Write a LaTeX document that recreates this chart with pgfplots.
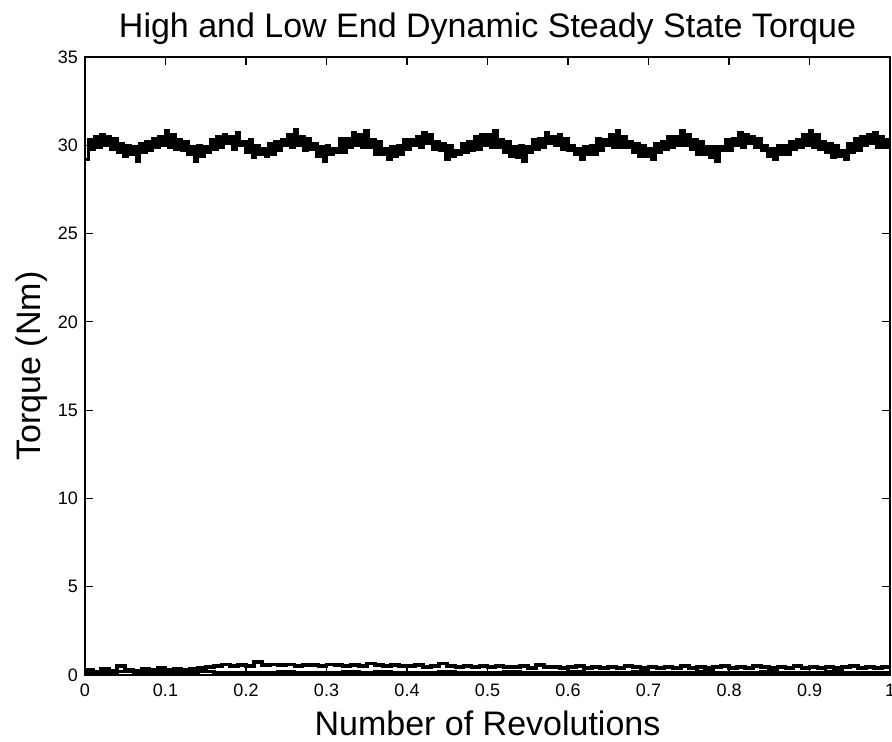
\documentclass[border=0pt]{standalone}
\usepackage{pgfplots}
\pgfplotsset{compat=1.18}
\usepackage{fontspec}
\setmainfont{Liberation Sans}
\begin{document}
\begin{tikzpicture}
\begin{axis}[
  name=ax,
  scale only axis,
  width=402.5pt, height=309pt,
  xmin=0, xmax=1, ymin=0, ymax=35,
  xtick={0,0.1,...,1.01},
  ytick={0,5,...,35},
  xticklabels={0,0.1,0.2,0.3,0.4,0.5,0.6,0.7,0.8,0.9,1},
  tick align=inside,
  tick pos=both,
  major tick length=4pt,
  axis line style={line width=0.6pt},
  every tick/.style={black, line width=0.6pt},
  /pgf/number format/assume math mode=true,
  ticklabel style={font=\fontsize{9}{10}\selectfont},
  xticklabel style={yshift=-1pt},
  title={High and Low End Dynamic Steady State Torque},
  title style={font=\fontsize{17}{19}\selectfont, at={(axis description cs:0.5,1)}, anchor=base, yshift=3.5pt},
  xlabel={Number of Revolutions},
  xlabel style={font=\fontsize{17}{19}\selectfont, at={(axis description cs:0.5,0)}, anchor=base, yshift=-30.5pt},
  ylabel={Torque (Nm)},
  ylabel style={font=\fontsize{17}{19}\selectfont, at={(axis description cs:-0.066,0.5)}, anchor=center, rotate=0},
]
\addplot[black, line width=1.7pt, const plot] coordinates {
(0,29.2)(0.004,30.3)(0.008,29.8)(0.012,30.5)(0.016,29.9)(0.02,30.6)(0.024,30.0)(0.028,30.5)(0.032,29.8)(0.036,30.4)
(0.04,29.6)(0.044,30.1)(0.048,29.4)(0.052,30.0)(0.056,29.5)(0.06,29.9)(0.064,29.1)(0.068,30.1)(0.072,29.6)(0.076,30.2)
(0.08,29.7)(0.084,30.4)(0.088,29.9)(0.092,30.5)(0.096,30.0)(0.1,30.8)(0.104,29.9)(0.108,30.6)(0.112,29.8)(0.116,30.3)
(0.12,29.7)(0.124,30.2)(0.128,29.5)(0.132,29.9)(0.136,29.1)(0.14,30.0)(0.144,29.4)(0.148,29.9)(0.152,29.6)(0.156,30.3)
(0.16,29.8)(0.164,30.5)(0.168,29.9)(0.172,30.6)(0.176,30.1)(0.18,30.5)(0.184,29.8)(0.188,30.7)(0.192,30.0)(0.196,30.2)
(0.2,29.6)(0.204,30.3)(0.208,29.3)(0.212,30.0)(0.216,29.5)(0.22,29.8)(0.224,29.4)(0.228,30.1)(0.232,29.5)(0.236,30.2)
(0.24,29.7)(0.244,30.3)(0.248,30.0)(0.252,30.6)(0.256,29.9)(0.26,30.9)(0.264,30.0)(0.268,30.5)(0.272,29.7)(0.276,30.4)
(0.28,29.8)(0.284,30.1)(0.288,29.4)(0.292,29.9)(0.296,29.1)(0.3,30.0)(0.304,29.5)(0.308,29.8)(0.312,29.6)(0.316,30.4)
(0.32,29.6)(0.324,30.4)(0.328,29.9)(0.332,30.7)(0.336,30.0)(0.34,30.6)(0.344,29.9)(0.348,30.8)(0.352,29.9)(0.356,30.3)
(0.36,29.5)(0.364,30.2)(0.368,29.5)(0.372,29.8)(0.376,29.2)(0.38,29.9)(0.384,29.4)(0.388,30.0)(0.392,29.5)(0.396,30.3)
(0.4,29.8)(0.404,30.3)(0.408,30.0)(0.412,30.5)(0.416,29.9)(0.42,30.7)(0.424,30.1)(0.428,30.6)(0.432,29.8)(0.436,30.2)
(0.44,29.7)(0.444,30.1)(0.448,29.2)(0.452,30.0)(0.456,29.4)(0.46,29.7)(0.464,29.5)(0.468,30.1)(0.472,29.6)(0.476,30.2)
(0.48,29.7)(0.484,30.5)(0.488,29.8)(0.492,30.6)(0.496,30.0)(0.5,30.6)(0.504,29.9)(0.508,30.8)(0.512,29.9)(0.516,30.3)
(0.52,29.6)(0.524,30.2)(0.528,29.4)(0.532,29.9)(0.536,29.3)(0.54,30.0)(0.544,29.1)(0.548,29.9)(0.552,29.6)(0.556,30.3)
(0.56,29.8)(0.564,30.4)(0.568,29.9)(0.572,30.7)(0.576,30.1)(0.58,30.5)(0.584,30.0)(0.588,30.6)(0.592,29.8)(0.596,30.4)
(0.6,29.7)(0.604,30.0)(0.608,29.5)(0.612,29.8)(0.616,29.2)(0.62,29.9)(0.624,29.5)(0.628,30.0)(0.632,29.5)(0.636,30.4)
(0.64,29.7)(0.644,30.3)(0.648,30.0)(0.652,30.6)(0.656,29.9)(0.66,30.8)(0.664,29.9)(0.668,30.5)(0.672,29.9)(0.676,30.2)
(0.68,29.6)(0.684,30.1)(0.688,29.4)(0.692,30.0)(0.696,29.4)(0.7,29.8)(0.704,29.2)(0.708,30.1)(0.712,29.6)(0.716,30.2)
(0.72,29.8)(0.724,30.5)(0.728,29.9)(0.732,30.5)(0.736,30.0)(0.74,30.8)(0.744,30.0)(0.748,30.6)(0.752,29.8)(0.756,30.3)
(0.76,29.5)(0.764,30.2)(0.768,29.5)(0.772,29.9)(0.776,29.3)(0.78,29.9)(0.784,29.1)(0.788,29.9)(0.792,29.7)(0.796,30.3)
(0.8,29.7)(0.804,30.4)(0.808,30.0)(0.812,30.7)(0.816,29.9)(0.82,30.6)(0.824,30.1)(0.828,30.5)(0.832,29.9)(0.836,30.4)
(0.84,29.7)(0.844,30.0)(0.848,29.4)(0.852,29.8)(0.856,29.2)(0.86,30.0)(0.864,29.5)(0.868,30.0)(0.872,29.5)(0.876,30.2)
(0.88,29.8)(0.884,30.3)(0.888,29.9)(0.892,30.6)(0.896,30.0)(0.9,30.8)(0.904,29.9)(0.908,30.6)(0.912,29.8)(0.916,30.2)
(0.92,29.6)(0.924,30.1)(0.928,29.3)(0.932,30.0)(0.936,29.4)(0.94,29.7)(0.944,29.2)(0.948,30.1)(0.952,29.6)(0.956,30.4)
(0.96,29.7)(0.964,30.5)(0.968,30.0)(0.972,30.6)(0.976,30.1)(0.98,30.7)(0.984,29.9)(0.988,30.5)(0.992,29.9)(0.996,30.3)(1,29.8)
};
\addplot[black, line width=1.8pt, const plot] coordinates {
(0,0.3)(0.01,0.2)(0.02,0.35)(0.03,0.25)(0.04,0.5)(0.05,0.3)(0.06,0.25)(0.07,0.35)(0.08,0.3)(0.09,0.4)
(0.1,0.3)(0.11,0.35)(0.12,0.3)(0.13,0.35)(0.14,0.4)(0.15,0.45)(0.16,0.5)(0.17,0.6)(0.18,0.5)(0.19,0.55)
(0.2,0.5)(0.21,0.75)(0.22,0.55)(0.23,0.6)(0.24,0.55)(0.25,0.6)(0.26,0.5)(0.27,0.55)(0.28,0.55)(0.29,0.5)
(0.3,0.6)(0.31,0.55)(0.32,0.5)(0.33,0.55)(0.34,0.5)(0.35,0.65)(0.36,0.55)(0.37,0.5)(0.38,0.55)(0.39,0.5)
(0.4,0.5)(0.41,0.55)(0.42,0.45)(0.43,0.5)(0.44,0.65)(0.45,0.5)(0.46,0.45)(0.47,0.5)(0.48,0.45)(0.49,0.5)
(0.5,0.45)(0.51,0.5)(0.52,0.45)(0.53,0.45)(0.54,0.5)(0.55,0.4)(0.56,0.55)(0.57,0.45)(0.58,0.45)(0.59,0.4)
(0.6,0.45)(0.61,0.5)(0.62,0.4)(0.63,0.45)(0.64,0.4)(0.65,0.45)(0.66,0.4)(0.67,0.5)(0.68,0.45)(0.69,0.4)
(0.7,0.45)(0.71,0.4)(0.72,0.45)(0.73,0.4)(0.74,0.5)(0.75,0.4)(0.76,0.45)(0.77,0.4)(0.78,0.45)(0.79,0.5)
(0.8,0.4)(0.81,0.45)(0.82,0.4)(0.83,0.5)(0.84,0.45)(0.85,0.4)(0.86,0.45)(0.87,0.4)(0.88,0.5)(0.89,0.4)
(0.9,0.45)(0.91,0.4)(0.92,0.45)(0.93,0.4)(0.94,0.45)(0.95,0.5)(0.96,0.4)(0.97,0.45)(0.98,0.4)(0.99,0.45)(1,0.4)
};
\addplot[black, line width=1.8pt, const plot] coordinates {
(0,0.15)(0.02,0.1)(0.04,0.2)(0.06,0.12)(0.08,0.18)(0.1,0.1)(0.12,0.15)(0.14,0.2)(0.16,0.12)(0.18,0.15)
(0.2,0.1)(0.22,0.15)(0.24,0.18)(0.26,0.12)(0.28,0.15)(0.3,0.1)(0.32,0.16)(0.34,0.12)(0.36,0.18)(0.38,0.1)
(0.4,0.15)(0.42,0.12)(0.44,0.18)(0.46,0.1)(0.48,0.15)(0.5,0.12)(0.52,0.18)(0.54,0.1)(0.56,0.15)(0.58,0.12)
(0.6,0.16)(0.62,0.1)(0.64,0.15)(0.66,0.12)(0.68,0.18)(0.7,0.1)(0.72,0.15)(0.74,0.12)(0.76,0.16)(0.78,0.1)
(0.8,0.15)(0.82,0.12)(0.84,0.18)(0.86,0.1)(0.88,0.15)(0.9,0.12)(0.92,0.16)(0.94,0.1)(0.96,0.15)(0.98,0.12)(1,0.15)
};
\end{axis}
\pgfresetboundingbox
\path[use as bounding box] ([shift={(-42.5pt,-33.5pt)}]ax.south west) rectangle ([shift={(1pt,28.5pt)}]ax.north east);
\end{tikzpicture}
\end{document}
